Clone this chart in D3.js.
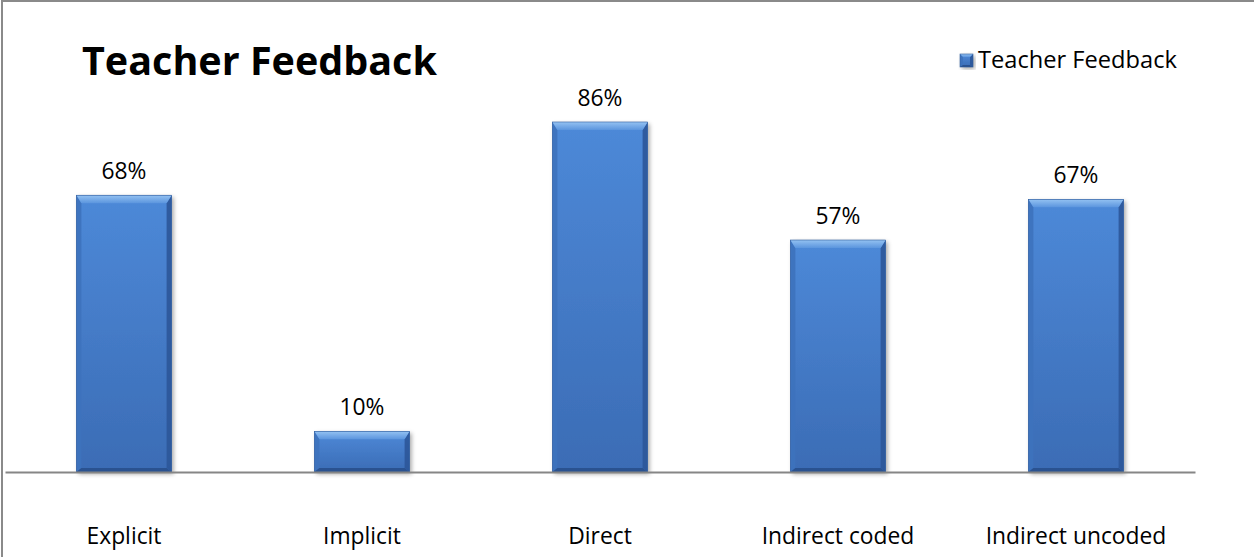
<!DOCTYPE html>
<html>
<head>
<meta charset="utf-8">
<script src="https://cdn.jsdelivr.net/npm/d3@7"></script>
<style>
  html, body { margin: 0; padding: 0; background: #fff; }
  svg { display: block; }
  text { font-family: "Open Sans", "Noto Sans", sans-serif; fill: #000; }
</style>
</head>
<body>
<svg id="chart" width="1254" height="557"></svg>
<script>
const categories = ["Explicit", "Implicit", "Direct", "Indirect coded", "Indirect uncoded"];
const values = [0.68, 0.10, 0.86, 0.57, 0.67];
const valueLabels = ["68%", "10%", "86%", "57%", "67%"];
const seriesName = "Teacher Feedback";
const titleText = "Teacher Feedback";

const W = 1254, H = 557;
const svg = d3.select("#chart");

function fit(sel, target) {
  const node = sel.node();
  const fs = parseFloat(sel.attr("font-size"));
  const w = node.getComputedTextLength();
  sel.attr("font-size", (fs * target / w).toFixed(2));
}

const defs = svg.append("defs");
const face = defs.append("linearGradient").attr("id", "face").attr("x1", 0).attr("y1", 0).attr("x2", 0).attr("y2", 1);
face.append("stop").attr("offset", "0%").attr("stop-color", "#4d89d8");
face.append("stop").attr("offset", "100%").attr("stop-color", "#3b6cb5");
const topG = defs.append("linearGradient").attr("id", "topb").attr("x1", 0).attr("y1", 0).attr("x2", 0).attr("y2", 1);
topG.append("stop").attr("offset", "0%").attr("stop-color", "#94c2f2");
topG.append("stop").attr("offset", "100%").attr("stop-color", "#5b95de");
const flt = defs.append("filter").attr("id", "shadow").attr("x", "-10%").attr("y", "-10%").attr("width", "130%").attr("height", "130%");
flt.append("feDropShadow").attr("dx", 2).attr("dy", 2).attr("stdDeviation", 2)
  .attr("flood-color", "#000").attr("flood-opacity", 0.35);

// outer border
svg.append("line").attr("x1", 2).attr("x2", W).attr("y1", 1).attr("y2", 1).attr("stroke", "#8a8a8a").attr("stroke-width", 2);
svg.append("line").attr("x1", 2).attr("x2", 2).attr("y1", 0).attr("y2", H).attr("stroke", "#8a8a8a").attr("stroke-width", 2);

const x = d3.scaleBand().domain(categories).range([5, 1195]).paddingInner(0.6).paddingOuter(0.3);
const y = d3.scaleLinear().domain([0, 1]).range([472, 65]);

function bevelBar(g, x0, y0, w, h, b0, s0, bb0) {
  const b = Math.min(b0, h / 2), s = s0, bb = bb0;
  g.append("rect").attr("x", x0).attr("y", y0).attr("width", w).attr("height", h)
    .attr("fill", "url(#face)").attr("filter", "url(#shadow)");
  g.append("path").attr("d", `M${x0},${y0}L${x0 + s},${y0 + b}L${x0 + s},${y0 + h - bb}L${x0},${y0 + h}Z`)
    .attr("fill", "#3d72bd").attr("opacity", 0.9);
  g.append("path").attr("d", `M${x0 + w},${y0}L${x0 + w - s},${y0 + b}L${x0 + w - s},${y0 + h - bb}L${x0 + w},${y0 + h}Z`)
    .attr("fill", "#2c5799").attr("opacity", 0.9);
  g.append("path").attr("d", `M${x0},${y0 + h}L${x0 + s},${y0 + h - bb}L${x0 + w - s},${y0 + h - bb}L${x0 + w},${y0 + h}Z`)
    .attr("fill", "#2a5290");
  g.append("path").attr("d", `M${x0},${y0}L${x0 + w},${y0}L${x0 + w - s},${y0 + b}L${x0 + s},${y0 + b}Z`)
    .attr("fill", "url(#topb)");
  g.append("rect").attr("x", x0).attr("y", y0).attr("width", w).attr("height", h)
    .attr("fill", "none").attr("stroke", "#2f5c9c").attr("stroke-width", 0.6);
}

const bars = svg.append("g");
categories.forEach((c, i) => {
  const g = bars.append("g");
  bevelBar(g, x(c), y(values[i]), x.bandwidth(), y(0) - y(values[i]), 8, 5, 4);
});

// axis
const axis = d3.axisBottom(x).tickSize(0).tickPadding(0);
const ax = svg.append("g").attr("transform", `translate(0,${y(0)})`).call(axis);
ax.select(".domain").attr("stroke", "#868686").attr("stroke-width", 2);
ax.selectAll(".tick text").attr("font-size", 22).attr("dy", 0).attr("y", 72)
  .attr("font-family", "\"Open Sans\", sans-serif").attr("fill", "#000");
{
  const t = ax.selectAll(".tick text").filter(d => d === "Explicit");
  const w = t.node().getComputedTextLength();
  const fs = 22 * 75 / w;
  ax.selectAll(".tick text").attr("font-size", fs.toFixed(2));
}

// value labels
const vl = svg.append("g").selectAll("text").data(categories).join("text")
  .attr("x", d => x(d) + x.bandwidth() / 2)
  .attr("y", (d, i) => y(values[i]) - 16)
  .attr("text-anchor", "middle")
  .attr("font-size", 22)
  .text((d, i) => valueLabels[i]);
{
  const w = vl.filter((d, i) => i === 0).node().getComputedTextLength();
  vl.attr("font-size", (22 * 45 / w).toFixed(2));
}

// title
const title = svg.append("text").attr("x", 82).attr("y", 75).attr("font-size", 40).attr("font-weight", "bold").text(titleText);
fit(title, 355);

// legend
const lg = svg.append("g");
bevelBar(lg, 960, 54, 13, 13, 3, 3, 2);
const lt = lg.append("text").attr("x", 978).attr("y", 68).attr("font-size", 22).text(seriesName);
fit(lt, 199);
</script>
</body>
</html>
